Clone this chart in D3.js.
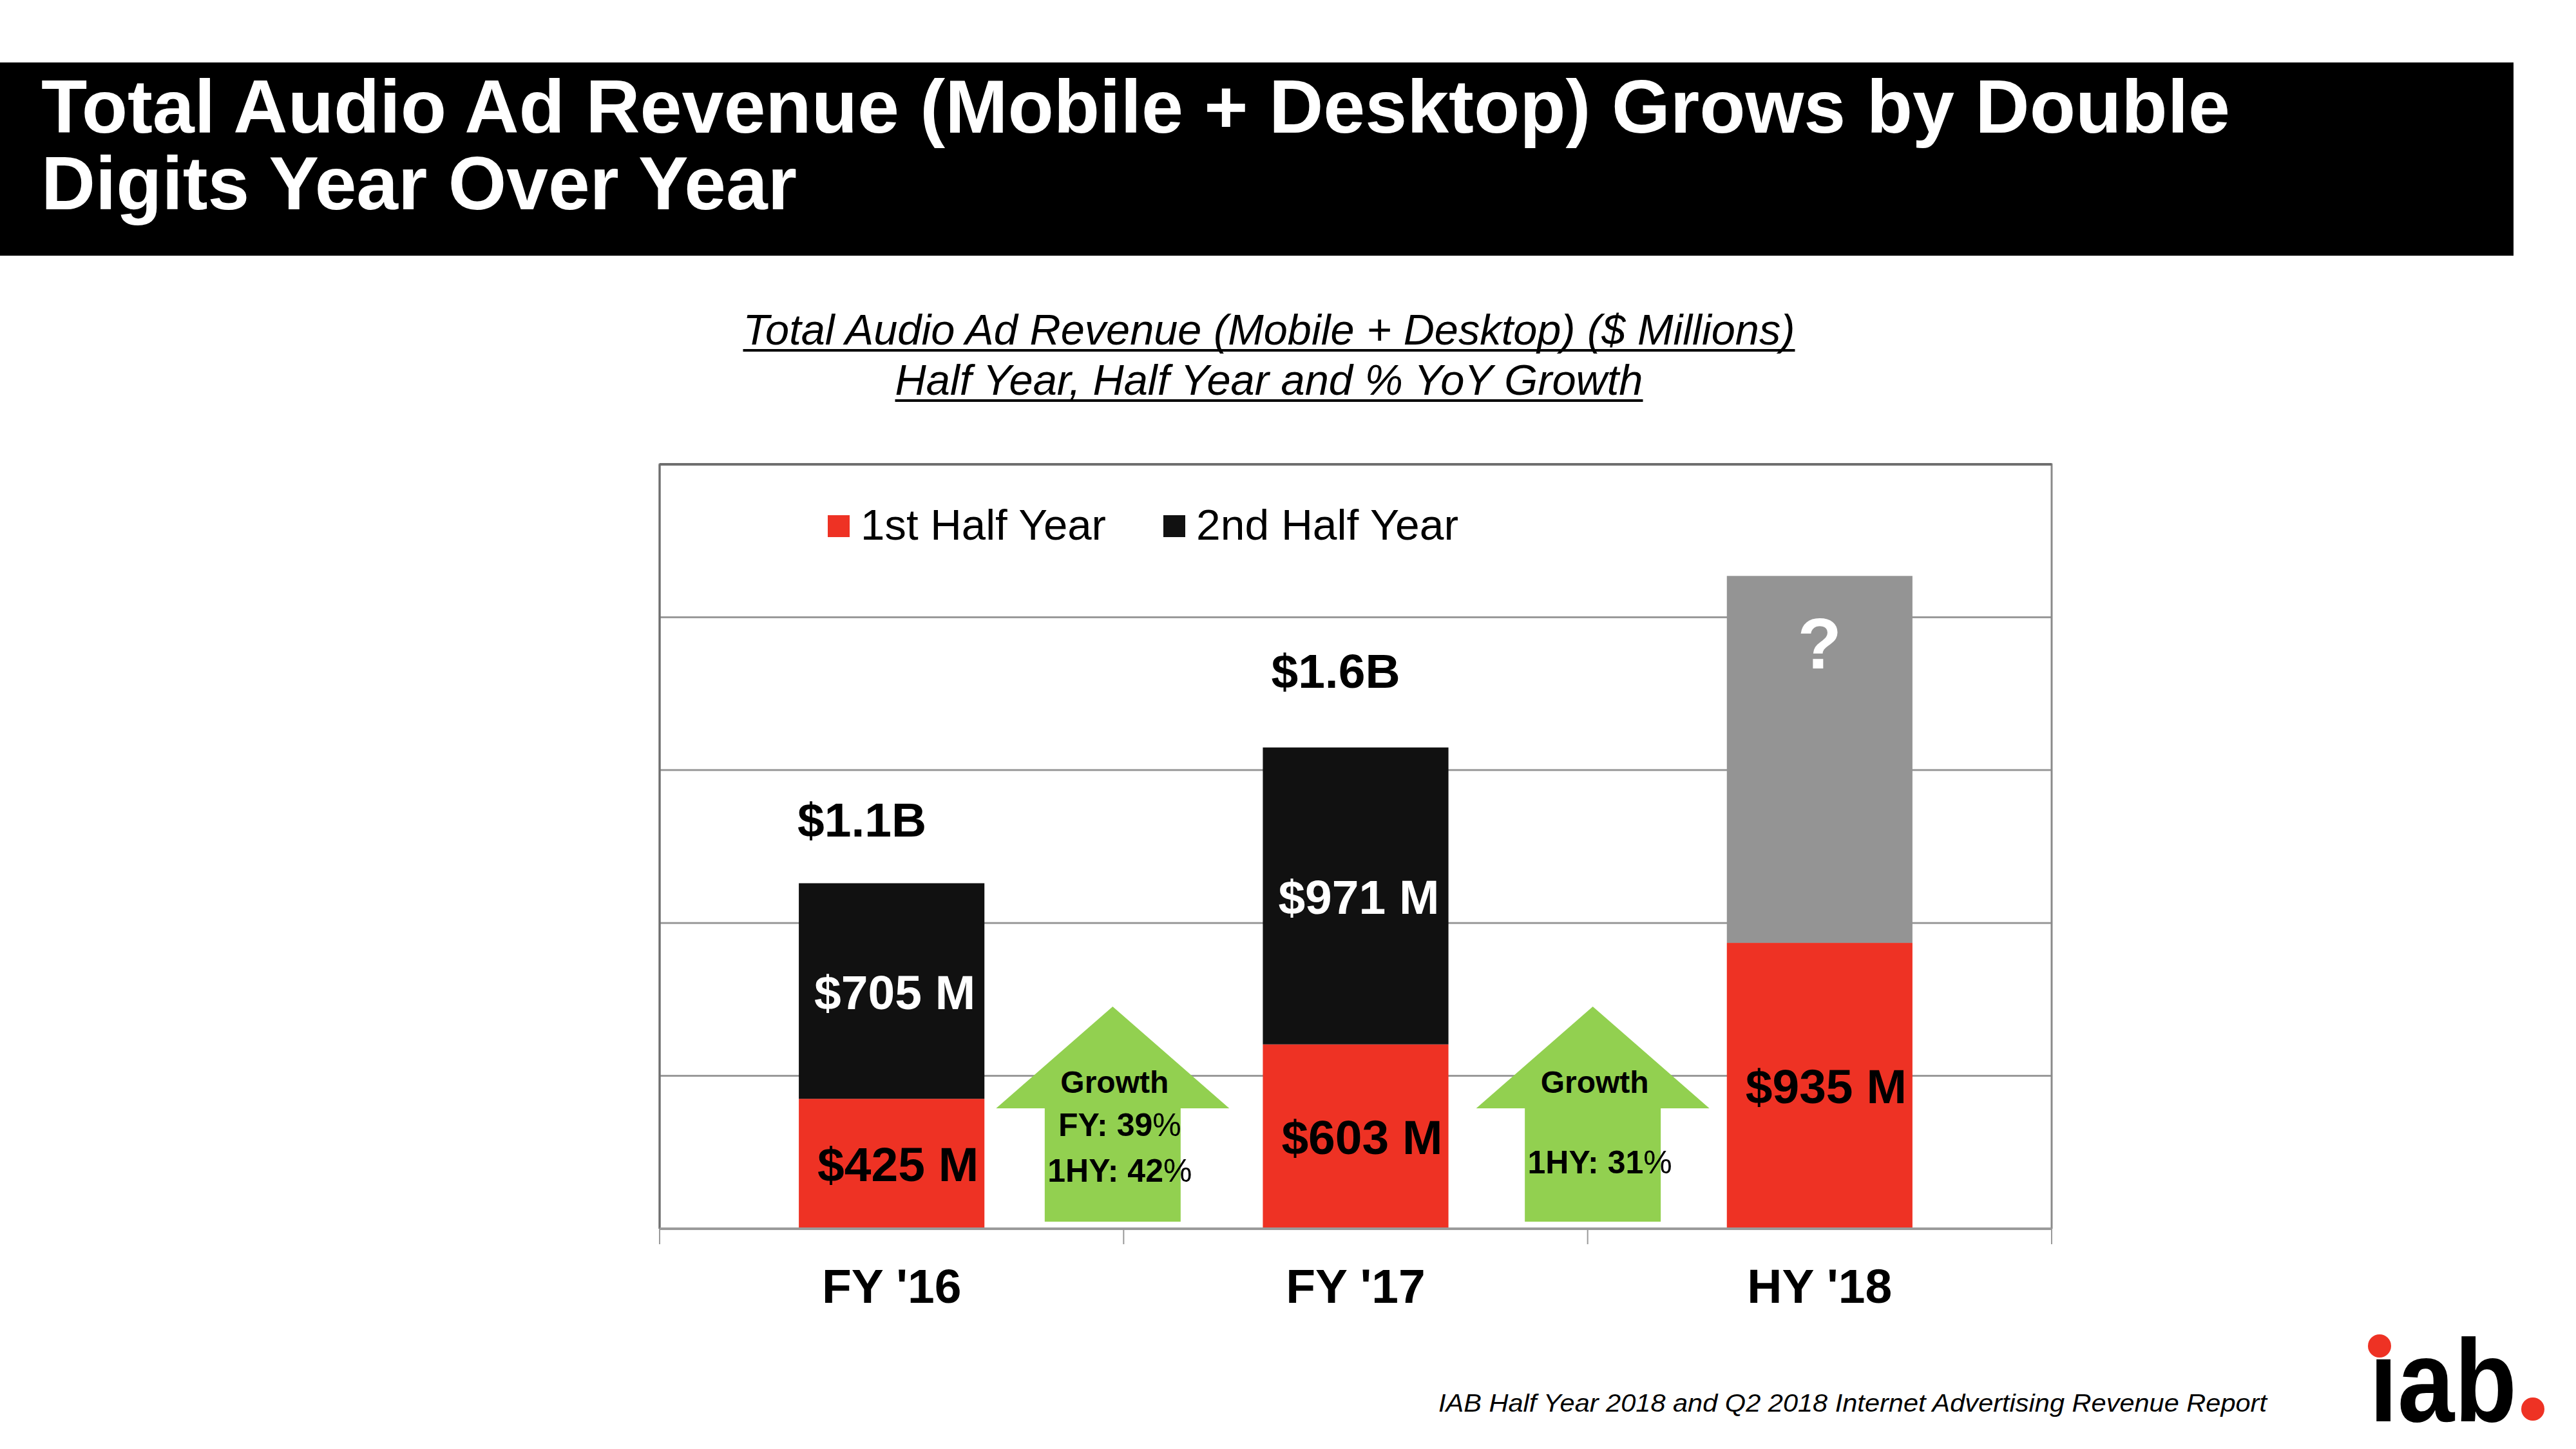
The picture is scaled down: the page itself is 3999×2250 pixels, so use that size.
<!DOCTYPE html>
<html>
<head>
<meta charset="utf-8">
<script src="https://cdn.jsdelivr.net/npm/d3@7"></script>
<style>
  html, body { margin: 0; padding: 0; background: #fff; }
  svg { display: block; }
  text { font-family: "Liberation Sans", Arial, Helvetica, sans-serif; }
</style>
</head>
<body>
<svg id="chart" width="3999" height="2250"></svg>
<script>
// ---------- data ----------
const categories = ["FY '16", "FY '17", "HY '18"];
const firstHalf = [425, 603, 935];
const secondHalf = [705, 971, 0];
const projected = [0, 0, 1200];           // grey "?" placeholder
const segmentLabels1 = ["$425 M", "$603 M", "$935 M"];
const segmentLabels2 = ["$705 M", "$971 M", ""];
const totalLabels = ["$1.1B", "$1.6B", ""];
const projectedLabel = "?";
const growthLabels = [["Growth", "FY: 39%", "1HY: 42%"], ["Growth", "1HY: 31%"]];
const yTicks = [0, 500, 1000, 1500, 2000, 2500];
const legendItems = ["1st Half Year", "2nd Half Year"];
const titleLines = ["Total Audio Ad Revenue (Mobile + Desktop) Grows by Double", "Digits Year Over Year"];
const subtitleLines = ["Total Audio Ad Revenue (Mobile + Desktop) ($ Millions)", "Half Year, Half Year and % YoY Growth"];
const sourceText = "IAB Half Year 2018 and Q2 2018 Internet Advertising Revenue Report";

// ---------- setup ----------
const svg = d3.select("#chart");
const RED = "#EE3224", BLACK = "#111111", GREY = "#949494", GREEN = "#92D050";
const plot = { left: 1024, right: 3185, top: 721, bottom: 1908 };

svg.append("rect").attr("width", 3999).attr("height", 2250).attr("fill", "#fff");

// title band
svg.append("rect").attr("x", 0).attr("y", 97).attr("width", 3902).attr("height", 300).attr("fill", "#000");
const titleW = [3398, 1173];
titleLines.forEach((t, i) => {
  svg.append("text").attr("x", 64).attr("y", 206 + i * 119)
    .attr("fill", "#fff").attr("font-size", 117).attr("font-weight", "bold")
    .attr("textLength", titleW[i]).attr("lengthAdjust", "spacingAndGlyphs")
    .text(t);
});

// subtitle (italic, underlined)
const subW = [1633, 1161];
const subY = [535, 613];
subtitleLines.forEach((t, i) => {
  svg.append("text").attr("x", 1970).attr("y", subY[i]).attr("text-anchor", "middle")
    .attr("font-size", 67).attr("font-style", "italic").attr("fill", "#000")
    .attr("textLength", subW[i]).attr("lengthAdjust", "spacingAndGlyphs")
    .text(t);
  svg.append("line").attr("x1", 1970 - subW[i] / 2).attr("x2", 1970 + subW[i] / 2)
    .attr("y1", subY[i] + 9).attr("y2", subY[i] + 9)
    .attr("stroke", "#000").attr("stroke-width", 4);
});

// scales
const x = d3.scaleBand().domain(categories).range([plot.left, plot.right]).paddingInner(0.6).paddingOuter(0.3);
const xSlot = d3.scaleBand().domain(categories).range([plot.left, plot.right]).padding(0);
const y = d3.scaleLinear().domain([0, 2500]).range([plot.bottom, plot.top]);

// gridlines
svg.append("g").selectAll("line").data(yTicks).join("line")
  .attr("x1", plot.left).attr("x2", plot.right)
  .attr("y1", d => y(d)).attr("y2", d => y(d))
  .attr("stroke", "#9a9a9a").attr("stroke-width", 3);

// plot border (left, top, right)
svg.append("path")
  .attr("d", `M${plot.left},${plot.bottom}V${plot.top}H${plot.right}V${plot.bottom}`)
  .attr("fill", "none").attr("stroke", "#8a8a8a").attr("stroke-width", 3);
svg.append("line").attr("x1", plot.left).attr("x2", plot.right).attr("y1", plot.top).attr("y2", plot.top)
  .attr("stroke", "#6e6e6e").attr("stroke-width", 4);
svg.append("line").attr("x1", plot.left).attr("x2", plot.left).attr("y1", plot.top).attr("y2", plot.bottom)
  .attr("stroke", "#6e6e6e").attr("stroke-width", 3);

// x ticks at category boundaries
const boundaries = categories.map(c => xSlot(c)).concat([plot.right]);
svg.append("g").selectAll("line").data(boundaries).join("line")
  .attr("x1", d => d).attr("x2", d => d)
  .attr("y1", plot.bottom).attr("y2", plot.bottom + 24)
  .attr("stroke", "#9a9a9a").attr("stroke-width", 2);

// stacked bars
const rows = categories.map((c, i) => ({ cat: c, first: firstHalf[i], second: secondHalf[i], proj: projected[i] }));
const stack = d3.stack().keys(["first", "second", "proj"])(rows);
const colors = { first: RED, second: BLACK, proj: GREY };
svg.append("g").selectAll("g").data(stack).join("g")
  .attr("fill", d => colors[d.key])
  .selectAll("rect").data(d => d.filter(s => s[1] > s[0])).join("rect")
  .attr("x", d => x(d.data.cat)).attr("width", x.bandwidth())
  .attr("y", d => y(d[1])).attr("height", d => y(d[0]) - y(d[1]));

// baseline drawn over bars
svg.append("line").attr("x1", plot.left).attr("x2", plot.right)
  .attr("y1", plot.bottom).attr("y2", plot.bottom)
  .attr("stroke", "#9a9a9a").attr("stroke-width", 4);

// segment labels
const cx = c => x(c) + x.bandwidth() / 2;
const totalOffsets = [{ dx: -46, dy: -72 }, { dx: -31, dy: -93 }, { dx: 0, dy: 0 }];
rows.forEach((r, i) => {
  if (segmentLabels1[i]) {
    svg.append("text").attr("x", cx(r.cat) + 10).attr("y", (y(0) + y(r.first)) / 2 + 27)
      .attr("text-anchor", "middle").attr("font-size", 75).attr("font-weight", "bold").attr("fill", "#000")
      .text(segmentLabels1[i]);
  }
  if (segmentLabels2[i]) {
    svg.append("text").attr("x", cx(r.cat) + 5).attr("y", (y(r.first) + y(r.first + r.second)) / 2 + 28)
      .attr("text-anchor", "middle").attr("font-size", 75).attr("font-weight", "bold").attr("fill", "#fff")
      .text(segmentLabels2[i]);
  }
  if (totalLabels[i]) {
    svg.append("text").attr("x", cx(r.cat) + totalOffsets[i].dx).attr("y", y(r.first + r.second) + totalOffsets[i].dy)
      .attr("text-anchor", "middle").attr("font-size", 75).attr("font-weight", "bold").attr("fill", "#000")
      .text(totalLabels[i]);
  }
  if (r.proj > 0) {
    svg.append("text").attr("x", cx(r.cat)).attr("y", y(r.first + r.proj) + 144)
      .attr("text-anchor", "middle").attr("font-size", 112).attr("font-weight", "bold").attr("fill", "#fff")
      .text(projectedLabel);
  }
});

// category labels
svg.append("g").selectAll("text").data(categories).join("text")
  .attr("x", d => cx(d)).attr("y", plot.bottom + 115)
  .attr("text-anchor", "middle").attr("font-size", 75).attr("font-weight", "bold").attr("fill", "#000")
  .text(d => d);

// growth arrows between categories
const arrowOffsets = [-17, 8];
growthLabels.forEach((lines, i) => {
  const ax = xSlot(categories[i + 1]) + arrowOffsets[i];
  const tipY = plot.bottom - 345, headY = plot.bottom - 187, botY = plot.bottom - 11;
  const hw = 181, sw = 105.5;
  svg.append("path")
    .attr("d", `M${ax},${tipY}L${ax + hw},${headY}H${ax + sw}V${botY}H${ax - sw}V${headY}H${ax - hw}Z`)
    .attr("fill", GREEN);
  const ys = lines.length === 3 ? [1697, 1764, 1835] : [1697, 1822];
  lines.forEach((t, j) => {
    const tx = svg.append("text").attr("x", ax + (j === 0 ? 3 : 11)).attr("y", ys[j])
      .attr("text-anchor", "middle").attr("font-size", j === 0 ? 48 : 50).attr("font-weight", "bold").attr("fill", "#000");
    const m = t.match(/^(.*?)(%?)$/);
    tx.append("tspan").text(m[1]);
    if (m[2]) tx.append("tspan").attr("font-weight", "normal").text(m[2]);
  });
});

// legend
const legendColors = [RED, BLACK];
const legendX = [1285, 1806];
const legendW = [381, 407];
legendItems.forEach((t, i) => {
  svg.append("rect").attr("x", legendX[i]).attr("y", 800).attr("width", 34).attr("height", 34).attr("fill", legendColors[i]);
  svg.append("text").attr("x", legendX[i] + 51).attr("y", 838)
    .attr("font-size", 67).attr("fill", "#000")
    .attr("textLength", legendW[i]).attr("lengthAdjust", "spacingAndGlyphs").text(t);
});

// source
svg.append("text").attr("x", 2233).attr("y", 2192).attr("font-size", 38).attr("font-style", "italic")
  .attr("fill", "#000").attr("textLength", 1286).attr("lengthAdjust", "spacingAndGlyphs").text(sourceText);

// iab logo
svg.append("text").attr("x", 3678).attr("y", 2207)
  .attr("font-family", "Lato, 'DejaVu Sans', sans-serif").attr("font-weight", 900).attr("font-size", 182)
  .attr("fill", "#000").attr("textLength", 229).attr("lengthAdjust", "spacingAndGlyphs").text("\u0131ab");
svg.append("circle").attr("cx", 3694).attr("cy", 2090).attr("r", 18).attr("fill", RED);
svg.append("circle").attr("cx", 3932).attr("cy", 2188).attr("r", 18).attr("fill", RED);
</script>
</body>
</html>
